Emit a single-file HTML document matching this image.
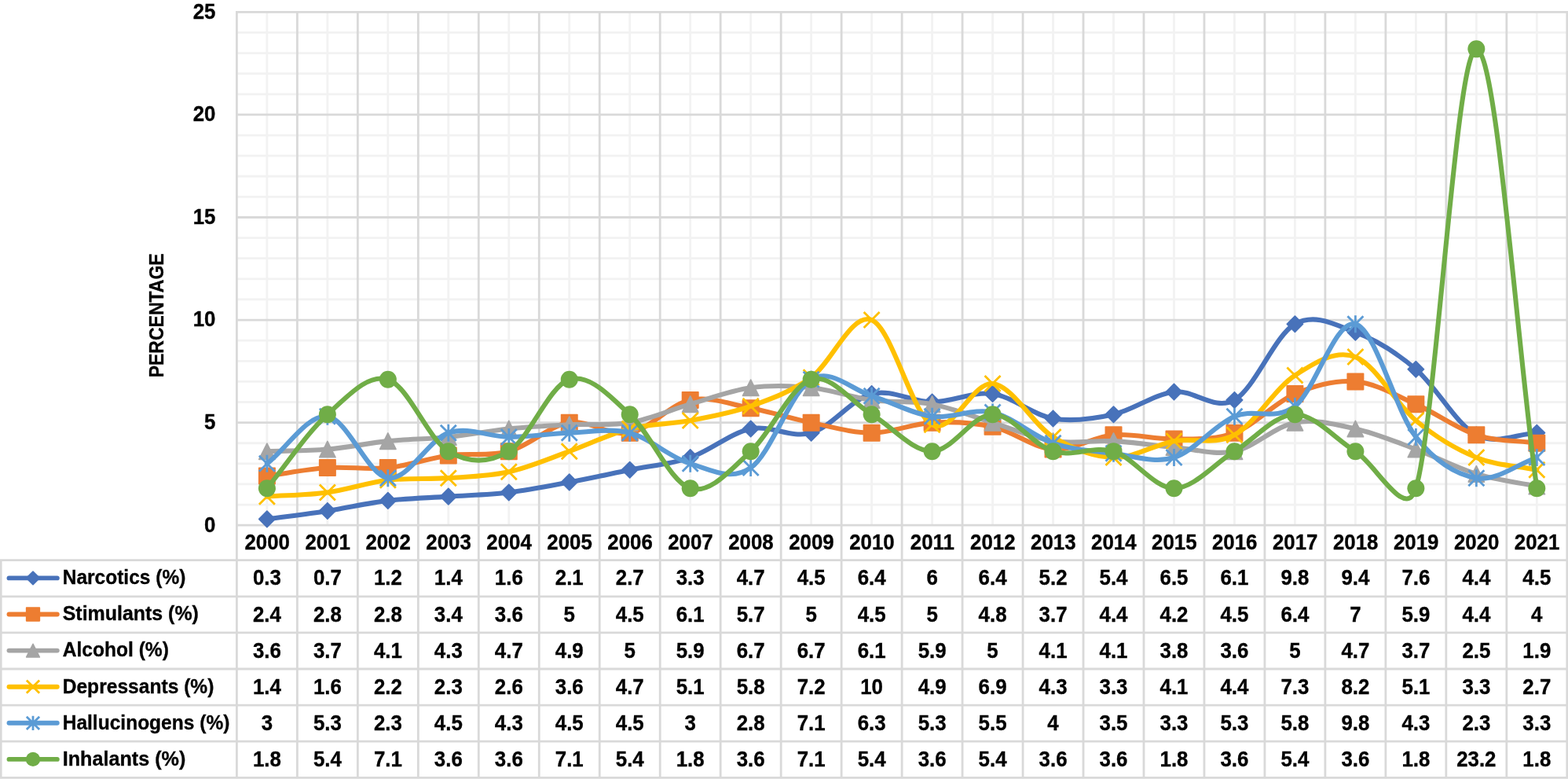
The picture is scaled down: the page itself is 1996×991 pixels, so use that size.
<!DOCTYPE html>
<html lang="en"><head><meta charset="utf-8"><title>Percentage by substance category, 2000-2021</title>
<style>html,body{margin:0;padding:0;background:#fff;}body{width:1996px;height:991px;overflow:hidden;}svg{display:block;}text{font-family:'Liberation Sans', Arial, sans-serif;font-weight:bold;fill:#000;stroke:#000;stroke-width:0.35px;}</style></head><body>
<svg width="1996" height="991" viewBox="0 0 1996 991">
<rect width="1996" height="991" fill="#fff"/>
<path d="M301.4 642.09H1994.8M301.4 615.97H1994.8M301.4 589.86H1994.8M301.4 563.74H1994.8M301.4 511.52H1994.8M301.4 485.4H1994.8M301.4 459.29H1994.8M301.4 433.17H1994.8M301.4 380.95H1994.8M301.4 354.83H1994.8M301.4 328.72H1994.8M301.4 302.6H1994.8M301.4 250.38H1994.8M301.4 224.26H1994.8M301.4 198.15H1994.8M301.4 172.03H1994.8M301.4 119.81H1994.8M301.4 93.69H1994.8M301.4 67.58H1994.8M301.4 41.46H1994.8M339.89 15.35V668.2M416.86 15.35V668.2M493.83 15.35V668.2M570.8 15.35V668.2M647.78 15.35V668.2M724.75 15.35V668.2M801.72 15.35V668.2M878.7 15.35V668.2M955.67 15.35V668.2M1032.64 15.35V668.2M1109.61 15.35V668.2M1186.59 15.35V668.2M1263.56 15.35V668.2M1340.53 15.35V668.2M1417.5 15.35V668.2M1494.48 15.35V668.2M1571.45 15.35V668.2M1648.42 15.35V668.2M1725.4 15.35V668.2M1802.37 15.35V668.2M1879.34 15.35V668.2M1956.31 15.35V668.2" stroke="#F2F2F2" stroke-width="2.8" fill="none"/>
<path d="M300 668.2H1996.2M300 537.63H1996.2M300 407.06H1996.2M300 276.49H1996.2M300 145.92H1996.2M300 15.35H1996.2M301.4 15.35V990.7M378.37 15.35V990.7M455.35 15.35V990.7M532.32 15.35V990.7M609.29 15.35V990.7M686.26 15.35V990.7M763.24 15.35V990.7M840.21 15.35V990.7M917.18 15.35V990.7M994.15 15.35V990.7M1071.13 15.35V990.7M1148.1 15.35V990.7M1225.07 15.35V990.7M1302.05 15.35V990.7M1379.02 15.35V990.7M1455.99 15.35V990.7M1532.96 15.35V990.7M1609.94 15.35V990.7M1686.91 15.35V990.7M1763.88 15.35V990.7M1840.85 15.35V990.7M1917.83 15.35V990.7M1994.8 15.35V990.7M-0.2 712.7H1996.2M-0.2 758.8H1996.2M-0.2 804.9H1996.2M-0.2 851H1996.2M-0.2 897.1H1996.2M-0.2 943.2H1996.2M-0.2 989.3H1996.2M1.2 712.7V990.7" stroke="#D9D9D9" stroke-width="2.8" fill="none"/>
<g>
<path d="M339.89 660.37C365.54 656.88 391.2 653.84 416.86 649.92C442.52 646 468.17 639.91 493.83 636.86C519.49 633.82 545.15 633.38 570.8 631.64C596.46 629.9 622.12 629.46 647.78 626.42C673.43 623.37 699.09 618.15 724.75 613.36C750.41 608.57 776.07 602.92 801.72 597.69C827.38 592.47 853.04 590.73 878.7 582.02C904.35 573.32 930.01 550.69 955.67 545.46C981.33 540.24 1006.98 558.09 1032.64 550.69C1058.3 543.29 1083.96 507.6 1109.61 501.07C1135.27 494.54 1160.93 511.52 1186.59 511.52C1212.24 511.52 1237.9 497.59 1263.56 501.07C1289.22 504.55 1314.87 528.05 1340.53 532.41C1366.19 536.76 1391.85 532.84 1417.5 527.18C1443.16 521.53 1468.82 501.51 1494.48 498.46C1520.13 495.41 1545.79 523.27 1571.45 508.9C1597.11 494.54 1622.77 426.65 1648.42 412.28C1674.08 397.92 1699.74 413.15 1725.4 422.73C1751.05 432.3 1776.71 447.97 1802.37 469.73C1828.03 491.5 1853.68 539.81 1879.34 553.3C1905 566.79 1930.66 551.56 1956.31 550.69" stroke="#4872BA" stroke-width="6.1" fill="none" stroke-linecap="round" stroke-linejoin="round"/>
<path d="M339.89 650.17L350.09 660.37L339.89 670.57L329.69 660.37Z" fill="#4872BA" stroke="#4872BA" stroke-width="1.6" stroke-linejoin="round"/>
<path d="M416.86 639.72L427.06 649.92L416.86 660.12L406.66 649.92Z" fill="#4872BA" stroke="#4872BA" stroke-width="1.6" stroke-linejoin="round"/>
<path d="M493.83 626.66L504.03 636.86L493.83 647.06L483.63 636.86Z" fill="#4872BA" stroke="#4872BA" stroke-width="1.6" stroke-linejoin="round"/>
<path d="M570.8 621.44L581 631.64L570.8 641.84L560.6 631.64Z" fill="#4872BA" stroke="#4872BA" stroke-width="1.6" stroke-linejoin="round"/>
<path d="M647.78 616.22L657.98 626.42L647.78 636.62L637.58 626.42Z" fill="#4872BA" stroke="#4872BA" stroke-width="1.6" stroke-linejoin="round"/>
<path d="M724.75 603.16L734.95 613.36L724.75 623.56L714.55 613.36Z" fill="#4872BA" stroke="#4872BA" stroke-width="1.6" stroke-linejoin="round"/>
<path d="M801.72 587.49L811.92 597.69L801.72 607.89L791.52 597.69Z" fill="#4872BA" stroke="#4872BA" stroke-width="1.6" stroke-linejoin="round"/>
<path d="M878.7 571.82L888.9 582.02L878.7 592.22L868.5 582.02Z" fill="#4872BA" stroke="#4872BA" stroke-width="1.6" stroke-linejoin="round"/>
<path d="M955.67 535.26L965.87 545.46L955.67 555.66L945.47 545.46Z" fill="#4872BA" stroke="#4872BA" stroke-width="1.6" stroke-linejoin="round"/>
<path d="M1032.64 540.49L1042.84 550.69L1032.64 560.89L1022.44 550.69Z" fill="#4872BA" stroke="#4872BA" stroke-width="1.6" stroke-linejoin="round"/>
<path d="M1109.61 490.87L1119.81 501.07L1109.61 511.27L1099.41 501.07Z" fill="#4872BA" stroke="#4872BA" stroke-width="1.6" stroke-linejoin="round"/>
<path d="M1186.59 501.32L1196.79 511.52L1186.59 521.72L1176.39 511.52Z" fill="#4872BA" stroke="#4872BA" stroke-width="1.6" stroke-linejoin="round"/>
<path d="M1263.56 490.87L1273.76 501.07L1263.56 511.27L1253.36 501.07Z" fill="#4872BA" stroke="#4872BA" stroke-width="1.6" stroke-linejoin="round"/>
<path d="M1340.53 522.21L1350.73 532.41L1340.53 542.61L1330.33 532.41Z" fill="#4872BA" stroke="#4872BA" stroke-width="1.6" stroke-linejoin="round"/>
<path d="M1417.5 516.98L1427.7 527.18L1417.5 537.38L1407.3 527.18Z" fill="#4872BA" stroke="#4872BA" stroke-width="1.6" stroke-linejoin="round"/>
<path d="M1494.48 488.26L1504.68 498.46L1494.48 508.66L1484.28 498.46Z" fill="#4872BA" stroke="#4872BA" stroke-width="1.6" stroke-linejoin="round"/>
<path d="M1571.45 498.7L1581.65 508.9L1571.45 519.1L1561.25 508.9Z" fill="#4872BA" stroke="#4872BA" stroke-width="1.6" stroke-linejoin="round"/>
<path d="M1648.42 402.08L1658.62 412.28L1648.42 422.48L1638.22 412.28Z" fill="#4872BA" stroke="#4872BA" stroke-width="1.6" stroke-linejoin="round"/>
<path d="M1725.4 412.53L1735.6 422.73L1725.4 432.93L1715.2 422.73Z" fill="#4872BA" stroke="#4872BA" stroke-width="1.6" stroke-linejoin="round"/>
<path d="M1802.37 459.53L1812.57 469.73L1802.37 479.93L1792.17 469.73Z" fill="#4872BA" stroke="#4872BA" stroke-width="1.6" stroke-linejoin="round"/>
<path d="M1879.34 543.1L1889.54 553.3L1879.34 563.5L1869.14 553.3Z" fill="#4872BA" stroke="#4872BA" stroke-width="1.6" stroke-linejoin="round"/>
<path d="M1956.31 540.49L1966.51 550.69L1956.31 560.89L1946.11 550.69Z" fill="#4872BA" stroke="#4872BA" stroke-width="1.6" stroke-linejoin="round"/>
</g>
<g>
<path d="M339.89 605.53C365.54 602.04 391.2 596.82 416.86 595.08C442.52 593.34 468.17 597.69 493.83 595.08C519.49 592.47 545.15 582.89 570.8 579.41C596.46 575.93 622.12 581.15 647.78 574.19C673.43 567.23 699.09 541.55 724.75 537.63C750.41 533.71 776.07 555.47 801.72 550.69C827.38 545.9 853.04 514.13 878.7 508.9C904.35 503.68 930.01 514.56 955.67 519.35C981.33 524.14 1006.98 532.41 1032.64 537.63C1058.3 542.85 1083.96 550.69 1109.61 550.69C1135.27 550.69 1160.93 538.94 1186.59 537.63C1212.24 536.32 1237.9 537.19 1263.56 542.85C1289.22 548.51 1314.87 569.84 1340.53 571.58C1366.19 573.32 1391.85 555.47 1417.5 553.3C1443.16 551.12 1468.82 558.96 1494.48 558.52C1520.13 558.09 1545.79 560.26 1571.45 550.69C1597.11 541.11 1622.77 511.95 1648.42 501.07C1674.08 490.19 1699.74 483.23 1725.4 485.4C1751.05 487.58 1776.71 502.81 1802.37 514.13C1828.03 525.44 1853.68 545.03 1879.34 553.3C1905 561.57 1930.66 560.26 1956.31 563.74" stroke="#ED7D31" stroke-width="6.1" fill="none" stroke-linecap="round" stroke-linejoin="round"/>
<rect x="329.69" y="595.33" width="20.4" height="20.4" fill="#ED7D31" stroke="#ED7D31" stroke-width="1.6" stroke-linejoin="round"/>
<rect x="406.66" y="584.88" width="20.4" height="20.4" fill="#ED7D31" stroke="#ED7D31" stroke-width="1.6" stroke-linejoin="round"/>
<rect x="483.63" y="584.88" width="20.4" height="20.4" fill="#ED7D31" stroke="#ED7D31" stroke-width="1.6" stroke-linejoin="round"/>
<rect x="560.6" y="569.21" width="20.4" height="20.4" fill="#ED7D31" stroke="#ED7D31" stroke-width="1.6" stroke-linejoin="round"/>
<rect x="637.58" y="563.99" width="20.4" height="20.4" fill="#ED7D31" stroke="#ED7D31" stroke-width="1.6" stroke-linejoin="round"/>
<rect x="714.55" y="527.43" width="20.4" height="20.4" fill="#ED7D31" stroke="#ED7D31" stroke-width="1.6" stroke-linejoin="round"/>
<rect x="791.52" y="540.49" width="20.4" height="20.4" fill="#ED7D31" stroke="#ED7D31" stroke-width="1.6" stroke-linejoin="round"/>
<rect x="868.5" y="498.7" width="20.4" height="20.4" fill="#ED7D31" stroke="#ED7D31" stroke-width="1.6" stroke-linejoin="round"/>
<rect x="945.47" y="509.15" width="20.4" height="20.4" fill="#ED7D31" stroke="#ED7D31" stroke-width="1.6" stroke-linejoin="round"/>
<rect x="1022.44" y="527.43" width="20.4" height="20.4" fill="#ED7D31" stroke="#ED7D31" stroke-width="1.6" stroke-linejoin="round"/>
<rect x="1099.41" y="540.49" width="20.4" height="20.4" fill="#ED7D31" stroke="#ED7D31" stroke-width="1.6" stroke-linejoin="round"/>
<rect x="1176.39" y="527.43" width="20.4" height="20.4" fill="#ED7D31" stroke="#ED7D31" stroke-width="1.6" stroke-linejoin="round"/>
<rect x="1253.36" y="532.65" width="20.4" height="20.4" fill="#ED7D31" stroke="#ED7D31" stroke-width="1.6" stroke-linejoin="round"/>
<rect x="1330.33" y="561.38" width="20.4" height="20.4" fill="#ED7D31" stroke="#ED7D31" stroke-width="1.6" stroke-linejoin="round"/>
<rect x="1407.3" y="543.1" width="20.4" height="20.4" fill="#ED7D31" stroke="#ED7D31" stroke-width="1.6" stroke-linejoin="round"/>
<rect x="1484.28" y="548.32" width="20.4" height="20.4" fill="#ED7D31" stroke="#ED7D31" stroke-width="1.6" stroke-linejoin="round"/>
<rect x="1561.25" y="540.49" width="20.4" height="20.4" fill="#ED7D31" stroke="#ED7D31" stroke-width="1.6" stroke-linejoin="round"/>
<rect x="1638.22" y="490.87" width="20.4" height="20.4" fill="#ED7D31" stroke="#ED7D31" stroke-width="1.6" stroke-linejoin="round"/>
<rect x="1715.2" y="475.2" width="20.4" height="20.4" fill="#ED7D31" stroke="#ED7D31" stroke-width="1.6" stroke-linejoin="round"/>
<rect x="1792.17" y="503.93" width="20.4" height="20.4" fill="#ED7D31" stroke="#ED7D31" stroke-width="1.6" stroke-linejoin="round"/>
<rect x="1869.14" y="543.1" width="20.4" height="20.4" fill="#ED7D31" stroke="#ED7D31" stroke-width="1.6" stroke-linejoin="round"/>
<rect x="1946.11" y="553.54" width="20.4" height="20.4" fill="#ED7D31" stroke="#ED7D31" stroke-width="1.6" stroke-linejoin="round"/>
</g>
<g>
<path d="M339.89 574.19C365.54 573.32 391.2 573.75 416.86 571.58C442.52 569.4 468.17 563.74 493.83 561.13C519.49 558.52 545.15 558.52 570.8 555.91C596.46 553.3 622.12 548.08 647.78 545.46C673.43 542.85 699.09 541.55 724.75 540.24C750.41 538.94 776.07 541.98 801.72 537.63C827.38 533.28 853.04 521.53 878.7 514.13C904.35 506.73 930.01 496.72 955.67 493.24C981.33 489.75 1006.98 490.62 1032.64 493.24C1058.3 495.85 1083.96 505.42 1109.61 508.9C1135.27 512.39 1160.93 509.34 1186.59 514.13C1212.24 518.91 1237.9 529.8 1263.56 537.63C1289.22 545.46 1314.87 557.22 1340.53 561.13C1366.19 565.05 1391.85 559.83 1417.5 561.13C1443.16 562.44 1468.82 566.79 1494.48 568.97C1520.13 571.14 1545.79 579.41 1571.45 574.19C1597.11 568.97 1622.77 542.42 1648.42 537.63C1674.08 532.84 1699.74 539.81 1725.4 545.46C1751.05 551.12 1776.71 562 1802.37 571.58C1828.03 581.15 1853.68 595.08 1879.34 602.92C1905 610.75 1930.66 613.36 1956.31 618.58" stroke="#A5A5A5" stroke-width="6.1" fill="none" stroke-linecap="round" stroke-linejoin="round"/>
<path d="M339.89 563.99L350.09 584.39L329.69 584.39Z" fill="#A5A5A5" stroke="#A5A5A5" stroke-width="1.6" stroke-linejoin="round"/>
<path d="M416.86 561.38L427.06 581.78L406.66 581.78Z" fill="#A5A5A5" stroke="#A5A5A5" stroke-width="1.6" stroke-linejoin="round"/>
<path d="M493.83 550.93L504.03 571.33L483.63 571.33Z" fill="#A5A5A5" stroke="#A5A5A5" stroke-width="1.6" stroke-linejoin="round"/>
<path d="M570.8 545.71L581 566.11L560.6 566.11Z" fill="#A5A5A5" stroke="#A5A5A5" stroke-width="1.6" stroke-linejoin="round"/>
<path d="M647.78 535.26L657.98 555.66L637.58 555.66Z" fill="#A5A5A5" stroke="#A5A5A5" stroke-width="1.6" stroke-linejoin="round"/>
<path d="M724.75 530.04L734.95 550.44L714.55 550.44Z" fill="#A5A5A5" stroke="#A5A5A5" stroke-width="1.6" stroke-linejoin="round"/>
<path d="M801.72 527.43L811.92 547.83L791.52 547.83Z" fill="#A5A5A5" stroke="#A5A5A5" stroke-width="1.6" stroke-linejoin="round"/>
<path d="M878.7 503.93L888.9 524.33L868.5 524.33Z" fill="#A5A5A5" stroke="#A5A5A5" stroke-width="1.6" stroke-linejoin="round"/>
<path d="M955.67 483.04L965.87 503.44L945.47 503.44Z" fill="#A5A5A5" stroke="#A5A5A5" stroke-width="1.6" stroke-linejoin="round"/>
<path d="M1032.64 483.04L1042.84 503.44L1022.44 503.44Z" fill="#A5A5A5" stroke="#A5A5A5" stroke-width="1.6" stroke-linejoin="round"/>
<path d="M1109.61 498.7L1119.81 519.1L1099.41 519.1Z" fill="#A5A5A5" stroke="#A5A5A5" stroke-width="1.6" stroke-linejoin="round"/>
<path d="M1186.59 503.93L1196.79 524.33L1176.39 524.33Z" fill="#A5A5A5" stroke="#A5A5A5" stroke-width="1.6" stroke-linejoin="round"/>
<path d="M1263.56 527.43L1273.76 547.83L1253.36 547.83Z" fill="#A5A5A5" stroke="#A5A5A5" stroke-width="1.6" stroke-linejoin="round"/>
<path d="M1340.53 550.93L1350.73 571.33L1330.33 571.33Z" fill="#A5A5A5" stroke="#A5A5A5" stroke-width="1.6" stroke-linejoin="round"/>
<path d="M1417.5 550.93L1427.7 571.33L1407.3 571.33Z" fill="#A5A5A5" stroke="#A5A5A5" stroke-width="1.6" stroke-linejoin="round"/>
<path d="M1494.48 558.77L1504.68 579.17L1484.28 579.17Z" fill="#A5A5A5" stroke="#A5A5A5" stroke-width="1.6" stroke-linejoin="round"/>
<path d="M1571.45 563.99L1581.65 584.39L1561.25 584.39Z" fill="#A5A5A5" stroke="#A5A5A5" stroke-width="1.6" stroke-linejoin="round"/>
<path d="M1648.42 527.43L1658.62 547.83L1638.22 547.83Z" fill="#A5A5A5" stroke="#A5A5A5" stroke-width="1.6" stroke-linejoin="round"/>
<path d="M1725.4 535.26L1735.6 555.66L1715.2 555.66Z" fill="#A5A5A5" stroke="#A5A5A5" stroke-width="1.6" stroke-linejoin="round"/>
<path d="M1802.37 561.38L1812.57 581.78L1792.17 581.78Z" fill="#A5A5A5" stroke="#A5A5A5" stroke-width="1.6" stroke-linejoin="round"/>
<path d="M1879.34 592.72L1889.54 613.12L1869.14 613.12Z" fill="#A5A5A5" stroke="#A5A5A5" stroke-width="1.6" stroke-linejoin="round"/>
<path d="M1956.31 608.38L1966.51 628.78L1946.11 628.78Z" fill="#A5A5A5" stroke="#A5A5A5" stroke-width="1.6" stroke-linejoin="round"/>
</g>
<g>
<path d="M339.89 631.64C365.54 629.9 391.2 629.9 416.86 626.42C442.52 622.94 468.17 613.8 493.83 610.75C519.49 607.7 545.15 609.88 570.8 608.14C596.46 606.4 622.12 605.96 647.78 600.3C673.43 594.65 699.09 583.33 724.75 574.19C750.41 565.05 776.07 551.99 801.72 545.46C827.38 538.94 853.04 539.81 878.7 535.02C904.35 530.23 930.01 525.88 955.67 516.74C981.33 507.6 1006.98 498.46 1032.64 480.18C1058.3 461.9 1083.96 397.05 1109.61 407.06C1135.27 417.07 1160.93 526.75 1186.59 540.24C1212.24 553.73 1237.9 485.4 1263.56 488.01C1289.22 490.62 1314.87 540.24 1340.53 555.91C1366.19 571.58 1391.85 581.15 1417.5 582.02C1443.16 582.89 1468.82 565.92 1494.48 561.13C1520.13 556.35 1545.79 567.23 1571.45 553.3C1597.11 539.37 1622.77 494.11 1648.42 477.57C1674.08 461.03 1699.74 444.49 1725.4 454.07C1751.05 463.64 1776.71 513.69 1802.37 535.02C1828.03 556.35 1853.68 571.58 1879.34 582.02C1905 592.47 1930.66 592.47 1956.31 597.69" stroke="#FFC000" stroke-width="6.1" fill="none" stroke-linecap="round" stroke-linejoin="round"/>
<path d="M329.89 621.64L349.89 641.64M329.89 641.64L349.89 621.64" stroke="#FFC000" stroke-width="2.8" fill="none"/>
<path d="M406.86 616.42L426.86 636.42M406.86 636.42L426.86 616.42" stroke="#FFC000" stroke-width="2.8" fill="none"/>
<path d="M483.83 600.75L503.83 620.75M483.83 620.75L503.83 600.75" stroke="#FFC000" stroke-width="2.8" fill="none"/>
<path d="M560.8 598.14L580.8 618.14M560.8 618.14L580.8 598.14" stroke="#FFC000" stroke-width="2.8" fill="none"/>
<path d="M637.78 590.3L657.78 610.3M637.78 610.3L657.78 590.3" stroke="#FFC000" stroke-width="2.8" fill="none"/>
<path d="M714.75 564.19L734.75 584.19M714.75 584.19L734.75 564.19" stroke="#FFC000" stroke-width="2.8" fill="none"/>
<path d="M791.72 535.46L811.72 555.46M791.72 555.46L811.72 535.46" stroke="#FFC000" stroke-width="2.8" fill="none"/>
<path d="M868.7 525.02L888.7 545.02M868.7 545.02L888.7 525.02" stroke="#FFC000" stroke-width="2.8" fill="none"/>
<path d="M945.67 506.74L965.67 526.74M945.67 526.74L965.67 506.74" stroke="#FFC000" stroke-width="2.8" fill="none"/>
<path d="M1022.64 470.18L1042.64 490.18M1022.64 490.18L1042.64 470.18" stroke="#FFC000" stroke-width="2.8" fill="none"/>
<path d="M1099.61 397.06L1119.61 417.06M1099.61 417.06L1119.61 397.06" stroke="#FFC000" stroke-width="2.8" fill="none"/>
<path d="M1176.59 530.24L1196.59 550.24M1176.59 550.24L1196.59 530.24" stroke="#FFC000" stroke-width="2.8" fill="none"/>
<path d="M1253.56 478.01L1273.56 498.01M1253.56 498.01L1273.56 478.01" stroke="#FFC000" stroke-width="2.8" fill="none"/>
<path d="M1330.53 545.91L1350.53 565.91M1330.53 565.91L1350.53 545.91" stroke="#FFC000" stroke-width="2.8" fill="none"/>
<path d="M1407.5 572.02L1427.5 592.02M1407.5 592.02L1427.5 572.02" stroke="#FFC000" stroke-width="2.8" fill="none"/>
<path d="M1484.48 551.13L1504.48 571.13M1484.48 571.13L1504.48 551.13" stroke="#FFC000" stroke-width="2.8" fill="none"/>
<path d="M1561.45 543.3L1581.45 563.3M1561.45 563.3L1581.45 543.3" stroke="#FFC000" stroke-width="2.8" fill="none"/>
<path d="M1638.42 467.57L1658.42 487.57M1638.42 487.57L1658.42 467.57" stroke="#FFC000" stroke-width="2.8" fill="none"/>
<path d="M1715.4 444.07L1735.4 464.07M1715.4 464.07L1735.4 444.07" stroke="#FFC000" stroke-width="2.8" fill="none"/>
<path d="M1792.37 525.02L1812.37 545.02M1792.37 545.02L1812.37 525.02" stroke="#FFC000" stroke-width="2.8" fill="none"/>
<path d="M1869.34 572.02L1889.34 592.02M1869.34 592.02L1889.34 572.02" stroke="#FFC000" stroke-width="2.8" fill="none"/>
<path d="M1946.31 587.69L1966.31 607.69M1946.31 607.69L1966.31 587.69" stroke="#FFC000" stroke-width="2.8" fill="none"/>
</g>
<g>
<path d="M339.89 589.86C365.54 569.84 391.2 526.75 416.86 529.8C442.52 532.84 468.17 604.66 493.83 608.14C519.49 611.62 545.15 559.39 570.8 550.69C596.46 541.98 622.12 555.91 647.78 555.91C673.43 555.91 699.09 551.56 724.75 550.69C750.41 549.82 776.07 544.16 801.72 550.69C827.38 557.22 853.04 582.46 878.7 589.86C904.35 597.26 930.01 612.93 955.67 595.08C981.33 577.24 1006.98 498.02 1032.64 482.79C1058.3 467.56 1083.96 495.85 1109.61 503.68C1135.27 511.52 1160.93 526.31 1186.59 529.8C1212.24 533.28 1237.9 518.91 1263.56 524.57C1289.22 530.23 1314.87 555.04 1340.53 563.74C1366.19 572.45 1391.85 573.75 1417.5 576.8C1443.16 579.85 1468.82 589.86 1494.48 582.02C1520.13 574.19 1545.79 540.68 1571.45 529.8C1597.11 518.91 1622.77 536.32 1648.42 516.74C1674.08 497.15 1699.74 405.75 1725.4 412.28C1751.05 418.81 1776.71 523.27 1802.37 555.91C1828.03 588.55 1853.68 603.79 1879.34 608.14C1905 612.49 1930.66 590.73 1956.31 582.02" stroke="#5B9BD5" stroke-width="6.1" fill="none" stroke-linecap="round" stroke-linejoin="round"/>
<path d="M329.89 579.86L349.89 599.86M329.89 599.86L349.89 579.86M339.89 578.86L339.89 600.86" stroke="#5B9BD5" stroke-width="2.8" fill="none"/>
<path d="M406.86 519.8L426.86 539.8M406.86 539.8L426.86 519.8M416.86 518.8L416.86 540.8" stroke="#5B9BD5" stroke-width="2.8" fill="none"/>
<path d="M483.83 598.14L503.83 618.14M483.83 618.14L503.83 598.14M493.83 597.14L493.83 619.14" stroke="#5B9BD5" stroke-width="2.8" fill="none"/>
<path d="M560.8 540.69L580.8 560.69M560.8 560.69L580.8 540.69M570.8 539.69L570.8 561.69" stroke="#5B9BD5" stroke-width="2.8" fill="none"/>
<path d="M637.78 545.91L657.78 565.91M637.78 565.91L657.78 545.91M647.78 544.91L647.78 566.91" stroke="#5B9BD5" stroke-width="2.8" fill="none"/>
<path d="M714.75 540.69L734.75 560.69M714.75 560.69L734.75 540.69M724.75 539.69L724.75 561.69" stroke="#5B9BD5" stroke-width="2.8" fill="none"/>
<path d="M791.72 540.69L811.72 560.69M791.72 560.69L811.72 540.69M801.72 539.69L801.72 561.69" stroke="#5B9BD5" stroke-width="2.8" fill="none"/>
<path d="M868.7 579.86L888.7 599.86M868.7 599.86L888.7 579.86M878.7 578.86L878.7 600.86" stroke="#5B9BD5" stroke-width="2.8" fill="none"/>
<path d="M945.67 585.08L965.67 605.08M945.67 605.08L965.67 585.08M955.67 584.08L955.67 606.08" stroke="#5B9BD5" stroke-width="2.8" fill="none"/>
<path d="M1022.64 472.79L1042.64 492.79M1022.64 492.79L1042.64 472.79M1032.64 471.79L1032.64 493.79" stroke="#5B9BD5" stroke-width="2.8" fill="none"/>
<path d="M1099.61 493.68L1119.61 513.68M1099.61 513.68L1119.61 493.68M1109.61 492.68L1109.61 514.68" stroke="#5B9BD5" stroke-width="2.8" fill="none"/>
<path d="M1176.59 519.8L1196.59 539.8M1176.59 539.8L1196.59 519.8M1186.59 518.8L1186.59 540.8" stroke="#5B9BD5" stroke-width="2.8" fill="none"/>
<path d="M1253.56 514.57L1273.56 534.57M1253.56 534.57L1273.56 514.57M1263.56 513.57L1263.56 535.57" stroke="#5B9BD5" stroke-width="2.8" fill="none"/>
<path d="M1330.53 553.74L1350.53 573.74M1330.53 573.74L1350.53 553.74M1340.53 552.74L1340.53 574.74" stroke="#5B9BD5" stroke-width="2.8" fill="none"/>
<path d="M1407.5 566.8L1427.5 586.8M1407.5 586.8L1427.5 566.8M1417.5 565.8L1417.5 587.8" stroke="#5B9BD5" stroke-width="2.8" fill="none"/>
<path d="M1484.48 572.02L1504.48 592.02M1484.48 592.02L1504.48 572.02M1494.48 571.02L1494.48 593.02" stroke="#5B9BD5" stroke-width="2.8" fill="none"/>
<path d="M1561.45 519.8L1581.45 539.8M1561.45 539.8L1581.45 519.8M1571.45 518.8L1571.45 540.8" stroke="#5B9BD5" stroke-width="2.8" fill="none"/>
<path d="M1638.42 506.74L1658.42 526.74M1638.42 526.74L1658.42 506.74M1648.42 505.74L1648.42 527.74" stroke="#5B9BD5" stroke-width="2.8" fill="none"/>
<path d="M1715.4 402.28L1735.4 422.28M1715.4 422.28L1735.4 402.28M1725.4 401.28L1725.4 423.28" stroke="#5B9BD5" stroke-width="2.8" fill="none"/>
<path d="M1792.37 545.91L1812.37 565.91M1792.37 565.91L1812.37 545.91M1802.37 544.91L1802.37 566.91" stroke="#5B9BD5" stroke-width="2.8" fill="none"/>
<path d="M1869.34 598.14L1889.34 618.14M1869.34 618.14L1889.34 598.14M1879.34 597.14L1879.34 619.14" stroke="#5B9BD5" stroke-width="2.8" fill="none"/>
<path d="M1946.31 572.02L1966.31 592.02M1946.31 592.02L1966.31 572.02M1956.31 571.02L1956.31 593.02" stroke="#5B9BD5" stroke-width="2.8" fill="none"/>
</g>
<g>
<path d="M339.89 621.19C365.54 589.86 391.2 550.25 416.86 527.18C442.52 504.12 468.17 474.96 493.83 482.79C519.49 490.62 545.15 558.96 570.8 574.19C596.46 589.42 622.12 589.42 647.78 574.19C673.43 558.96 699.09 490.62 724.75 482.79C750.41 474.96 776.07 504.12 801.72 527.18C827.38 550.25 853.04 613.36 878.7 621.19C904.35 629.03 930.01 597.26 955.67 574.19C981.33 551.12 1006.98 490.62 1032.64 482.79C1058.3 474.96 1083.96 511.95 1109.61 527.18C1135.27 542.42 1160.93 574.19 1186.59 574.19C1212.24 574.19 1237.9 527.18 1263.56 527.18C1289.22 527.18 1314.87 566.36 1340.53 574.19C1366.19 582.02 1391.85 566.36 1417.5 574.19C1443.16 582.02 1468.82 621.19 1494.48 621.19C1520.13 621.19 1545.79 589.86 1571.45 574.19C1597.11 558.52 1622.77 527.18 1648.42 527.18C1674.08 527.18 1699.74 558.52 1725.4 574.19C1751.05 589.86 1789.38 664.38 1802.37 621.19C1828.03 535.89 1853.68 62.36 1879.34 62.36C1905 62.36 1930.66 434.91 1956.31 621.19" stroke="#70AD47" stroke-width="6.1" fill="none" stroke-linecap="round" stroke-linejoin="round"/>
<circle cx="339.89" cy="621.19" r="11" fill="#70AD47"/>
<circle cx="416.86" cy="527.18" r="11" fill="#70AD47"/>
<circle cx="493.83" cy="482.79" r="11" fill="#70AD47"/>
<circle cx="570.8" cy="574.19" r="11" fill="#70AD47"/>
<circle cx="647.78" cy="574.19" r="11" fill="#70AD47"/>
<circle cx="724.75" cy="482.79" r="11" fill="#70AD47"/>
<circle cx="801.72" cy="527.18" r="11" fill="#70AD47"/>
<circle cx="878.7" cy="621.19" r="11" fill="#70AD47"/>
<circle cx="955.67" cy="574.19" r="11" fill="#70AD47"/>
<circle cx="1032.64" cy="482.79" r="11" fill="#70AD47"/>
<circle cx="1109.61" cy="527.18" r="11" fill="#70AD47"/>
<circle cx="1186.59" cy="574.19" r="11" fill="#70AD47"/>
<circle cx="1263.56" cy="527.18" r="11" fill="#70AD47"/>
<circle cx="1340.53" cy="574.19" r="11" fill="#70AD47"/>
<circle cx="1417.5" cy="574.19" r="11" fill="#70AD47"/>
<circle cx="1494.48" cy="621.19" r="11" fill="#70AD47"/>
<circle cx="1571.45" cy="574.19" r="11" fill="#70AD47"/>
<circle cx="1648.42" cy="527.18" r="11" fill="#70AD47"/>
<circle cx="1725.4" cy="574.19" r="11" fill="#70AD47"/>
<circle cx="1802.37" cy="621.19" r="11" fill="#70AD47"/>
<circle cx="1879.34" cy="62.36" r="11" fill="#70AD47"/>
<circle cx="1956.31" cy="621.19" r="11" fill="#70AD47"/>
</g>
<text transform="translate(274.4 676.6) scale(0.9364 1)" font-size="27.6" text-anchor="end">0</text>
<text transform="translate(274.4 546.03) scale(0.9364 1)" font-size="27.6" text-anchor="end">5</text>
<text transform="translate(274.4 415.46) scale(0.9364 1)" font-size="27.6" text-anchor="end">10</text>
<text transform="translate(274.4 284.89) scale(0.9364 1)" font-size="27.6" text-anchor="end">15</text>
<text transform="translate(274.4 154.32) scale(0.9364 1)" font-size="27.6" text-anchor="end">20</text>
<text transform="translate(274.4 23.75) scale(0.9364 1)" font-size="27.6" text-anchor="end">25</text>
<text transform="translate(208.1 401.3) rotate(-90)" font-size="26.5" text-anchor="middle" textLength="158" lengthAdjust="spacingAndGlyphs">PERCENTAGE</text>
<text transform="translate(340.19 698.8) scale(0.923 1)" font-size="28" text-anchor="middle">2000</text>
<text transform="translate(417.16 698.8) scale(0.923 1)" font-size="28" text-anchor="middle">2001</text>
<text transform="translate(494.13 698.8) scale(0.923 1)" font-size="28" text-anchor="middle">2002</text>
<text transform="translate(571.1 698.8) scale(0.923 1)" font-size="28" text-anchor="middle">2003</text>
<text transform="translate(648.08 698.8) scale(0.923 1)" font-size="28" text-anchor="middle">2004</text>
<text transform="translate(725.05 698.8) scale(0.923 1)" font-size="28" text-anchor="middle">2005</text>
<text transform="translate(802.02 698.8) scale(0.923 1)" font-size="28" text-anchor="middle">2006</text>
<text transform="translate(879 698.8) scale(0.923 1)" font-size="28" text-anchor="middle">2007</text>
<text transform="translate(955.97 698.8) scale(0.923 1)" font-size="28" text-anchor="middle">2008</text>
<text transform="translate(1032.94 698.8) scale(0.923 1)" font-size="28" text-anchor="middle">2009</text>
<text transform="translate(1109.91 698.8) scale(0.923 1)" font-size="28" text-anchor="middle">2010</text>
<text transform="translate(1186.89 698.8) scale(0.923 1)" font-size="28" text-anchor="middle">2011</text>
<text transform="translate(1263.86 698.8) scale(0.923 1)" font-size="28" text-anchor="middle">2012</text>
<text transform="translate(1340.83 698.8) scale(0.923 1)" font-size="28" text-anchor="middle">2013</text>
<text transform="translate(1417.8 698.8) scale(0.923 1)" font-size="28" text-anchor="middle">2014</text>
<text transform="translate(1494.78 698.8) scale(0.923 1)" font-size="28" text-anchor="middle">2015</text>
<text transform="translate(1571.75 698.8) scale(0.923 1)" font-size="28" text-anchor="middle">2016</text>
<text transform="translate(1648.72 698.8) scale(0.923 1)" font-size="28" text-anchor="middle">2017</text>
<text transform="translate(1725.7 698.8) scale(0.923 1)" font-size="28" text-anchor="middle">2018</text>
<text transform="translate(1802.67 698.8) scale(0.923 1)" font-size="28" text-anchor="middle">2019</text>
<text transform="translate(1879.64 698.8) scale(0.923 1)" font-size="28" text-anchor="middle">2020</text>
<text transform="translate(1956.61 698.8) scale(0.923 1)" font-size="28" text-anchor="middle">2021</text>
<path d="M11.5 735.4H72.8" stroke="#4872BA" stroke-width="5.9" stroke-linecap="round" fill="none"/>
<path d="M42 727.05L50.35 735.4L42 743.75L33.65 735.4Z" fill="#4872BA" stroke="#4872BA" stroke-width="1.6" stroke-linejoin="round"/>
<text x="79.7" y="743.25" font-size="26.5" textLength="156.7" lengthAdjust="spacingAndGlyphs">Narcotics (%)</text>
<text transform="translate(339.89 744.4) scale(0.9398 1)" font-size="27.5" text-anchor="middle">0.3</text>
<text transform="translate(416.86 744.4) scale(0.9398 1)" font-size="27.5" text-anchor="middle">0.7</text>
<text transform="translate(493.83 744.4) scale(0.9398 1)" font-size="27.5" text-anchor="middle">1.2</text>
<text transform="translate(570.8 744.4) scale(0.9398 1)" font-size="27.5" text-anchor="middle">1.4</text>
<text transform="translate(647.78 744.4) scale(0.9398 1)" font-size="27.5" text-anchor="middle">1.6</text>
<text transform="translate(724.75 744.4) scale(0.9398 1)" font-size="27.5" text-anchor="middle">2.1</text>
<text transform="translate(801.72 744.4) scale(0.9398 1)" font-size="27.5" text-anchor="middle">2.7</text>
<text transform="translate(878.7 744.4) scale(0.9398 1)" font-size="27.5" text-anchor="middle">3.3</text>
<text transform="translate(955.67 744.4) scale(0.9398 1)" font-size="27.5" text-anchor="middle">4.7</text>
<text transform="translate(1032.64 744.4) scale(0.9398 1)" font-size="27.5" text-anchor="middle">4.5</text>
<text transform="translate(1109.61 744.4) scale(0.9398 1)" font-size="27.5" text-anchor="middle">6.4</text>
<text transform="translate(1186.59 744.4) scale(0.9398 1)" font-size="27.5" text-anchor="middle">6</text>
<text transform="translate(1263.56 744.4) scale(0.9398 1)" font-size="27.5" text-anchor="middle">6.4</text>
<text transform="translate(1340.53 744.4) scale(0.9398 1)" font-size="27.5" text-anchor="middle">5.2</text>
<text transform="translate(1417.5 744.4) scale(0.9398 1)" font-size="27.5" text-anchor="middle">5.4</text>
<text transform="translate(1494.48 744.4) scale(0.9398 1)" font-size="27.5" text-anchor="middle">6.5</text>
<text transform="translate(1571.45 744.4) scale(0.9398 1)" font-size="27.5" text-anchor="middle">6.1</text>
<text transform="translate(1648.42 744.4) scale(0.9398 1)" font-size="27.5" text-anchor="middle">9.8</text>
<text transform="translate(1725.4 744.4) scale(0.9398 1)" font-size="27.5" text-anchor="middle">9.4</text>
<text transform="translate(1802.37 744.4) scale(0.9398 1)" font-size="27.5" text-anchor="middle">7.6</text>
<text transform="translate(1879.34 744.4) scale(0.9398 1)" font-size="27.5" text-anchor="middle">4.4</text>
<text transform="translate(1956.31 744.4) scale(0.9398 1)" font-size="27.5" text-anchor="middle">4.5</text>
<path d="M11.5 781.5H72.8" stroke="#ED7D31" stroke-width="5.9" stroke-linecap="round" fill="none"/>
<rect x="33.65" y="773.15" width="16.7" height="16.7" fill="#ED7D31" stroke="#ED7D31" stroke-width="1.6" stroke-linejoin="round"/>
<text x="79.7" y="789.35" font-size="26.5" textLength="173.2" lengthAdjust="spacingAndGlyphs">Stimulants (%)</text>
<text transform="translate(339.89 790.5) scale(0.9398 1)" font-size="27.5" text-anchor="middle">2.4</text>
<text transform="translate(416.86 790.5) scale(0.9398 1)" font-size="27.5" text-anchor="middle">2.8</text>
<text transform="translate(493.83 790.5) scale(0.9398 1)" font-size="27.5" text-anchor="middle">2.8</text>
<text transform="translate(570.8 790.5) scale(0.9398 1)" font-size="27.5" text-anchor="middle">3.4</text>
<text transform="translate(647.78 790.5) scale(0.9398 1)" font-size="27.5" text-anchor="middle">3.6</text>
<text transform="translate(724.75 790.5) scale(0.9398 1)" font-size="27.5" text-anchor="middle">5</text>
<text transform="translate(801.72 790.5) scale(0.9398 1)" font-size="27.5" text-anchor="middle">4.5</text>
<text transform="translate(878.7 790.5) scale(0.9398 1)" font-size="27.5" text-anchor="middle">6.1</text>
<text transform="translate(955.67 790.5) scale(0.9398 1)" font-size="27.5" text-anchor="middle">5.7</text>
<text transform="translate(1032.64 790.5) scale(0.9398 1)" font-size="27.5" text-anchor="middle">5</text>
<text transform="translate(1109.61 790.5) scale(0.9398 1)" font-size="27.5" text-anchor="middle">4.5</text>
<text transform="translate(1186.59 790.5) scale(0.9398 1)" font-size="27.5" text-anchor="middle">5</text>
<text transform="translate(1263.56 790.5) scale(0.9398 1)" font-size="27.5" text-anchor="middle">4.8</text>
<text transform="translate(1340.53 790.5) scale(0.9398 1)" font-size="27.5" text-anchor="middle">3.7</text>
<text transform="translate(1417.5 790.5) scale(0.9398 1)" font-size="27.5" text-anchor="middle">4.4</text>
<text transform="translate(1494.48 790.5) scale(0.9398 1)" font-size="27.5" text-anchor="middle">4.2</text>
<text transform="translate(1571.45 790.5) scale(0.9398 1)" font-size="27.5" text-anchor="middle">4.5</text>
<text transform="translate(1648.42 790.5) scale(0.9398 1)" font-size="27.5" text-anchor="middle">6.4</text>
<text transform="translate(1725.4 790.5) scale(0.9398 1)" font-size="27.5" text-anchor="middle">7</text>
<text transform="translate(1802.37 790.5) scale(0.9398 1)" font-size="27.5" text-anchor="middle">5.9</text>
<text transform="translate(1879.34 790.5) scale(0.9398 1)" font-size="27.5" text-anchor="middle">4.4</text>
<text transform="translate(1956.31 790.5) scale(0.9398 1)" font-size="27.5" text-anchor="middle">4</text>
<path d="M11.5 827.6H72.8" stroke="#A5A5A5" stroke-width="5.9" stroke-linecap="round" fill="none"/>
<path d="M42 819.25L50.35 835.95L33.65 835.95Z" fill="#A5A5A5" stroke="#A5A5A5" stroke-width="1.6" stroke-linejoin="round"/>
<text x="79.7" y="835.45" font-size="26.5" textLength="135.2" lengthAdjust="spacingAndGlyphs">Alcohol (%)</text>
<text transform="translate(339.89 836.6) scale(0.9398 1)" font-size="27.5" text-anchor="middle">3.6</text>
<text transform="translate(416.86 836.6) scale(0.9398 1)" font-size="27.5" text-anchor="middle">3.7</text>
<text transform="translate(493.83 836.6) scale(0.9398 1)" font-size="27.5" text-anchor="middle">4.1</text>
<text transform="translate(570.8 836.6) scale(0.9398 1)" font-size="27.5" text-anchor="middle">4.3</text>
<text transform="translate(647.78 836.6) scale(0.9398 1)" font-size="27.5" text-anchor="middle">4.7</text>
<text transform="translate(724.75 836.6) scale(0.9398 1)" font-size="27.5" text-anchor="middle">4.9</text>
<text transform="translate(801.72 836.6) scale(0.9398 1)" font-size="27.5" text-anchor="middle">5</text>
<text transform="translate(878.7 836.6) scale(0.9398 1)" font-size="27.5" text-anchor="middle">5.9</text>
<text transform="translate(955.67 836.6) scale(0.9398 1)" font-size="27.5" text-anchor="middle">6.7</text>
<text transform="translate(1032.64 836.6) scale(0.9398 1)" font-size="27.5" text-anchor="middle">6.7</text>
<text transform="translate(1109.61 836.6) scale(0.9398 1)" font-size="27.5" text-anchor="middle">6.1</text>
<text transform="translate(1186.59 836.6) scale(0.9398 1)" font-size="27.5" text-anchor="middle">5.9</text>
<text transform="translate(1263.56 836.6) scale(0.9398 1)" font-size="27.5" text-anchor="middle">5</text>
<text transform="translate(1340.53 836.6) scale(0.9398 1)" font-size="27.5" text-anchor="middle">4.1</text>
<text transform="translate(1417.5 836.6) scale(0.9398 1)" font-size="27.5" text-anchor="middle">4.1</text>
<text transform="translate(1494.48 836.6) scale(0.9398 1)" font-size="27.5" text-anchor="middle">3.8</text>
<text transform="translate(1571.45 836.6) scale(0.9398 1)" font-size="27.5" text-anchor="middle">3.6</text>
<text transform="translate(1648.42 836.6) scale(0.9398 1)" font-size="27.5" text-anchor="middle">5</text>
<text transform="translate(1725.4 836.6) scale(0.9398 1)" font-size="27.5" text-anchor="middle">4.7</text>
<text transform="translate(1802.37 836.6) scale(0.9398 1)" font-size="27.5" text-anchor="middle">3.7</text>
<text transform="translate(1879.34 836.6) scale(0.9398 1)" font-size="27.5" text-anchor="middle">2.5</text>
<text transform="translate(1956.31 836.6) scale(0.9398 1)" font-size="27.5" text-anchor="middle">1.9</text>
<path d="M11.5 873.7H72.8" stroke="#FFC000" stroke-width="5.9" stroke-linecap="round" fill="none"/>
<path d="M33.85 865.55L50.15 881.85M33.85 881.85L50.15 865.55" stroke="#FFC000" stroke-width="2.8" fill="none"/>
<text x="79.7" y="881.55" font-size="26.5" textLength="192.7" lengthAdjust="spacingAndGlyphs">Depressants (%)</text>
<text transform="translate(339.89 882.7) scale(0.9398 1)" font-size="27.5" text-anchor="middle">1.4</text>
<text transform="translate(416.86 882.7) scale(0.9398 1)" font-size="27.5" text-anchor="middle">1.6</text>
<text transform="translate(493.83 882.7) scale(0.9398 1)" font-size="27.5" text-anchor="middle">2.2</text>
<text transform="translate(570.8 882.7) scale(0.9398 1)" font-size="27.5" text-anchor="middle">2.3</text>
<text transform="translate(647.78 882.7) scale(0.9398 1)" font-size="27.5" text-anchor="middle">2.6</text>
<text transform="translate(724.75 882.7) scale(0.9398 1)" font-size="27.5" text-anchor="middle">3.6</text>
<text transform="translate(801.72 882.7) scale(0.9398 1)" font-size="27.5" text-anchor="middle">4.7</text>
<text transform="translate(878.7 882.7) scale(0.9398 1)" font-size="27.5" text-anchor="middle">5.1</text>
<text transform="translate(955.67 882.7) scale(0.9398 1)" font-size="27.5" text-anchor="middle">5.8</text>
<text transform="translate(1032.64 882.7) scale(0.9398 1)" font-size="27.5" text-anchor="middle">7.2</text>
<text transform="translate(1109.61 882.7) scale(0.9398 1)" font-size="27.5" text-anchor="middle">10</text>
<text transform="translate(1186.59 882.7) scale(0.9398 1)" font-size="27.5" text-anchor="middle">4.9</text>
<text transform="translate(1263.56 882.7) scale(0.9398 1)" font-size="27.5" text-anchor="middle">6.9</text>
<text transform="translate(1340.53 882.7) scale(0.9398 1)" font-size="27.5" text-anchor="middle">4.3</text>
<text transform="translate(1417.5 882.7) scale(0.9398 1)" font-size="27.5" text-anchor="middle">3.3</text>
<text transform="translate(1494.48 882.7) scale(0.9398 1)" font-size="27.5" text-anchor="middle">4.1</text>
<text transform="translate(1571.45 882.7) scale(0.9398 1)" font-size="27.5" text-anchor="middle">4.4</text>
<text transform="translate(1648.42 882.7) scale(0.9398 1)" font-size="27.5" text-anchor="middle">7.3</text>
<text transform="translate(1725.4 882.7) scale(0.9398 1)" font-size="27.5" text-anchor="middle">8.2</text>
<text transform="translate(1802.37 882.7) scale(0.9398 1)" font-size="27.5" text-anchor="middle">5.1</text>
<text transform="translate(1879.34 882.7) scale(0.9398 1)" font-size="27.5" text-anchor="middle">3.3</text>
<text transform="translate(1956.31 882.7) scale(0.9398 1)" font-size="27.5" text-anchor="middle">2.7</text>
<path d="M11.5 919.8H72.8" stroke="#5B9BD5" stroke-width="5.9" stroke-linecap="round" fill="none"/>
<path d="M33.85 911.65L50.15 927.95M33.85 927.95L50.15 911.65M42 910.65L42 928.95" stroke="#5B9BD5" stroke-width="2.8" fill="none"/>
<text x="79.7" y="927.65" font-size="26.5" textLength="212.7" lengthAdjust="spacingAndGlyphs">Hallucinogens (%)</text>
<text transform="translate(339.89 928.8) scale(0.9398 1)" font-size="27.5" text-anchor="middle">3</text>
<text transform="translate(416.86 928.8) scale(0.9398 1)" font-size="27.5" text-anchor="middle">5.3</text>
<text transform="translate(493.83 928.8) scale(0.9398 1)" font-size="27.5" text-anchor="middle">2.3</text>
<text transform="translate(570.8 928.8) scale(0.9398 1)" font-size="27.5" text-anchor="middle">4.5</text>
<text transform="translate(647.78 928.8) scale(0.9398 1)" font-size="27.5" text-anchor="middle">4.3</text>
<text transform="translate(724.75 928.8) scale(0.9398 1)" font-size="27.5" text-anchor="middle">4.5</text>
<text transform="translate(801.72 928.8) scale(0.9398 1)" font-size="27.5" text-anchor="middle">4.5</text>
<text transform="translate(878.7 928.8) scale(0.9398 1)" font-size="27.5" text-anchor="middle">3</text>
<text transform="translate(955.67 928.8) scale(0.9398 1)" font-size="27.5" text-anchor="middle">2.8</text>
<text transform="translate(1032.64 928.8) scale(0.9398 1)" font-size="27.5" text-anchor="middle">7.1</text>
<text transform="translate(1109.61 928.8) scale(0.9398 1)" font-size="27.5" text-anchor="middle">6.3</text>
<text transform="translate(1186.59 928.8) scale(0.9398 1)" font-size="27.5" text-anchor="middle">5.3</text>
<text transform="translate(1263.56 928.8) scale(0.9398 1)" font-size="27.5" text-anchor="middle">5.5</text>
<text transform="translate(1340.53 928.8) scale(0.9398 1)" font-size="27.5" text-anchor="middle">4</text>
<text transform="translate(1417.5 928.8) scale(0.9398 1)" font-size="27.5" text-anchor="middle">3.5</text>
<text transform="translate(1494.48 928.8) scale(0.9398 1)" font-size="27.5" text-anchor="middle">3.3</text>
<text transform="translate(1571.45 928.8) scale(0.9398 1)" font-size="27.5" text-anchor="middle">5.3</text>
<text transform="translate(1648.42 928.8) scale(0.9398 1)" font-size="27.5" text-anchor="middle">5.8</text>
<text transform="translate(1725.4 928.8) scale(0.9398 1)" font-size="27.5" text-anchor="middle">9.8</text>
<text transform="translate(1802.37 928.8) scale(0.9398 1)" font-size="27.5" text-anchor="middle">4.3</text>
<text transform="translate(1879.34 928.8) scale(0.9398 1)" font-size="27.5" text-anchor="middle">2.3</text>
<text transform="translate(1956.31 928.8) scale(0.9398 1)" font-size="27.5" text-anchor="middle">3.3</text>
<path d="M11.5 965.9H72.8" stroke="#70AD47" stroke-width="5.9" stroke-linecap="round" fill="none"/>
<circle cx="42" cy="965.9" r="9.15" fill="#70AD47"/>
<text x="79.7" y="973.75" font-size="26.5" textLength="156.7" lengthAdjust="spacingAndGlyphs">Inhalants (%)</text>
<text transform="translate(339.89 974.9) scale(0.9398 1)" font-size="27.5" text-anchor="middle">1.8</text>
<text transform="translate(416.86 974.9) scale(0.9398 1)" font-size="27.5" text-anchor="middle">5.4</text>
<text transform="translate(493.83 974.9) scale(0.9398 1)" font-size="27.5" text-anchor="middle">7.1</text>
<text transform="translate(570.8 974.9) scale(0.9398 1)" font-size="27.5" text-anchor="middle">3.6</text>
<text transform="translate(647.78 974.9) scale(0.9398 1)" font-size="27.5" text-anchor="middle">3.6</text>
<text transform="translate(724.75 974.9) scale(0.9398 1)" font-size="27.5" text-anchor="middle">7.1</text>
<text transform="translate(801.72 974.9) scale(0.9398 1)" font-size="27.5" text-anchor="middle">5.4</text>
<text transform="translate(878.7 974.9) scale(0.9398 1)" font-size="27.5" text-anchor="middle">1.8</text>
<text transform="translate(955.67 974.9) scale(0.9398 1)" font-size="27.5" text-anchor="middle">3.6</text>
<text transform="translate(1032.64 974.9) scale(0.9398 1)" font-size="27.5" text-anchor="middle">7.1</text>
<text transform="translate(1109.61 974.9) scale(0.9398 1)" font-size="27.5" text-anchor="middle">5.4</text>
<text transform="translate(1186.59 974.9) scale(0.9398 1)" font-size="27.5" text-anchor="middle">3.6</text>
<text transform="translate(1263.56 974.9) scale(0.9398 1)" font-size="27.5" text-anchor="middle">5.4</text>
<text transform="translate(1340.53 974.9) scale(0.9398 1)" font-size="27.5" text-anchor="middle">3.6</text>
<text transform="translate(1417.5 974.9) scale(0.9398 1)" font-size="27.5" text-anchor="middle">3.6</text>
<text transform="translate(1494.48 974.9) scale(0.9398 1)" font-size="27.5" text-anchor="middle">1.8</text>
<text transform="translate(1571.45 974.9) scale(0.9398 1)" font-size="27.5" text-anchor="middle">3.6</text>
<text transform="translate(1648.42 974.9) scale(0.9398 1)" font-size="27.5" text-anchor="middle">5.4</text>
<text transform="translate(1725.4 974.9) scale(0.9398 1)" font-size="27.5" text-anchor="middle">3.6</text>
<text transform="translate(1802.37 974.9) scale(0.9398 1)" font-size="27.5" text-anchor="middle">1.8</text>
<text transform="translate(1879.34 974.9) scale(0.9398 1)" font-size="27.5" text-anchor="middle">23.2</text>
<text transform="translate(1956.31 974.9) scale(0.9398 1)" font-size="27.5" text-anchor="middle">1.8</text>
</svg></body></html>
